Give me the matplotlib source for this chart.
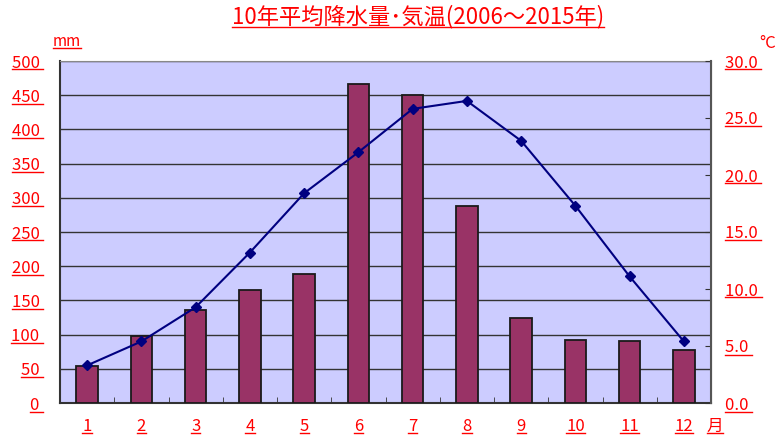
import matplotlib
matplotlib.use("Agg")
import matplotlib.pyplot as plt
from matplotlib.lines import Line2D
import numpy as np

plt.rcParams['font.family'] = ['Noto Sans CJK JP', 'DejaVu Sans']

months = ['1', '2', '3', '4', '5', '6', '7', '8', '9', '10', '11', '12']
precip_mm = [54, 98, 136, 165, 188, 466, 451, 288, 125, 92, 91, 77]
temp_c = [3.3, 5.4, 8.4, 13.2, 18.4, 22.0, 25.8, 26.5, 23.0, 17.3, 11.1, 5.4]
left_ticks = [0, 50, 100, 150, 200, 250, 300, 350, 400, 450, 500]
right_ticks = [0, 5, 10, 15, 20, 25, 30]

title = '10年平均降水量･気温(2006～2015年)'
RED = '#FF0000'

fig = plt.figure(figsize=(7.8, 4.4), dpi=100)
ax = fig.add_axes([60/780, 37/440, 651/780, 342/440])
ax.set_facecolor('#CCCCFF')

x = np.arange(len(months))
ax.bar(x, precip_mm, width=0.4, color='#993366', edgecolor='#1a1a1a', linewidth=1.3, zorder=3)
ax.set_xlim(-0.5, 11.5)
ax.set_ylim(0, 500)
ax.set_yticks(left_ticks)
ax.set_yticklabels([f'{v} ' for v in left_ticks])
ax.yaxis.grid(True, color='#333333', linewidth=1.0, zorder=1)
ax.set_axisbelow(True)
ax.tick_params(axis='y', length=0, pad=12, labelsize=12, labelcolor=RED)
ax.set_xticks(x)
ax.set_xticklabels(months)
ax.set_xticks(np.arange(-0.5, 12, 1), minor=True)
ax.tick_params(axis='x', which='major', length=0, pad=11, labelsize=12, labelcolor=RED)
ax.tick_params(axis='x', which='minor', length=4, direction='in', color='#333333')
for side in ['left', 'bottom']:
    ax.spines[side].set_color('#333333')
    ax.spines[side].set_linewidth(1.5)
ax.spines['top'].set_color('#888888')
ax.spines['right'].set_color('#555555')

ax2 = ax.twinx()
ax2.plot(x, temp_c, color='#000080', linewidth=1.5, marker='D', markersize=5,
         markerfacecolor='#000080', markeredgecolor='#000080', zorder=5)
ax2.set_ylim(0, 30)
ax2.set_yticks(right_ticks)
ax2.set_yticklabels([f'{v:.1f} ' for v in right_ticks])
ax2.tick_params(axis='y', direction='in', length=4, pad=10, labelsize=12, labelcolor=RED, color='#333333')
ax2.spines['right'].set_color('#555555')
ax2.spines['right'].set_linewidth(1.5)
ax2.spines['top'].set_visible(False)
ax2.spines['left'].set_visible(False)
ax2.spines['bottom'].set_visible(False)

t_title = fig.text(418/780, 1 - 17/440, title, ha='center', va='center', fontsize=16, color=RED)
t_mm = fig.text(67/780, 1 - 42/440, 'mm', ha='center', va='center', fontsize=11, color=RED)
t_c = fig.text(768/780, 1 - 43/440, '°C', ha='center', va='center', fontsize=12, color=RED)
t_m = fig.text(715/780, 1 - 426/440, '月', ha='center', va='center', fontsize=12, color=RED)
texts = [t_title, t_mm, t_m] + list(ax.get_yticklabels()) + list(ax.get_xticklabels()) + list(ax2.get_yticklabels())

fig.canvas.draw()
r = fig.canvas.get_renderer()
W, H = fig.bbox.width, fig.bbox.height
for t in texts:
    bb = t.get_window_extent(renderer=r)
    if bb.width <= 0:
        continue
    yb = bb.y0 + 2
    fig.add_artist(Line2D([bb.x0 / W, bb.x1 / W], [yb / H, yb / H],
                          transform=fig.transFigure, color=RED, linewidth=1.0))

fig.savefig('out.png', dpi=100, facecolor='white')
